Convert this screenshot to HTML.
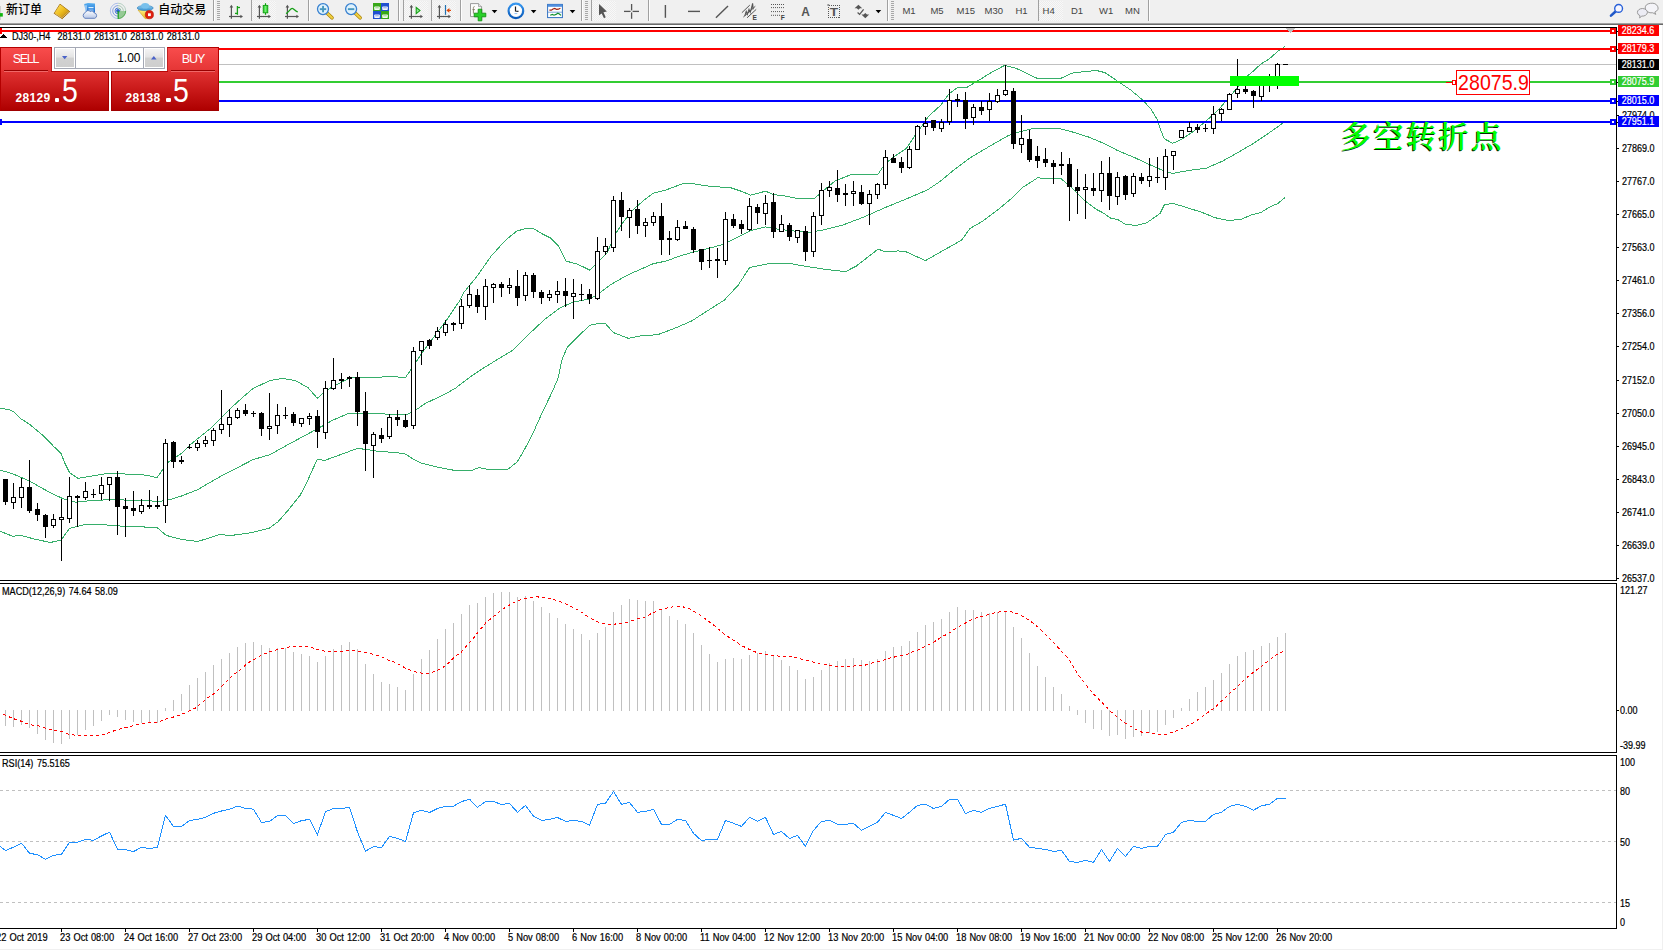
<!DOCTYPE html>
<html lang="zh">
<head>
<meta charset="utf-8">
<title>DJ30-,H4</title>
<style>
html,body{margin:0;padding:0;background:#fff;}
body{width:1663px;height:950px;overflow:hidden;position:relative;font-family:"Liberation Sans","Noto Sans CJK SC",sans-serif;color:#000;}
.abs{position:absolute;}
#toolbar{position:absolute;left:0;top:0;width:1663px;height:23px;background:#f0f0f0;}
#tbshadow1{position:absolute;left:0;top:23px;width:1663px;height:1px;background:#a0a0a0;}
#tbshadow2{position:absolute;left:0;top:24px;width:1663px;height:1px;background:#696969;}
#chart{position:absolute;left:0;top:0;width:1663px;height:950px;}
.ax{position:absolute;left:1622px;font-size:10px;line-height:11px;height:11px;white-space:nowrap;transform:scaleX(0.9);transform-origin:0 50%;-webkit-text-stroke:0.2px #000;}
.ax2{position:absolute;left:1620px;font-size:10px;line-height:11px;height:11px;white-space:nowrap;transform:scaleX(0.9);transform-origin:0 50%;-webkit-text-stroke:0.2px #000;}
.pl{position:absolute;left:1618px;width:41px;height:11px;overflow:hidden;color:#fff;font-size:10px;line-height:12px;text-align:center;white-space:nowrap;}
.pl span{display:inline-block;transform:scaleX(0.9);transform-origin:50% 50%;-webkit-text-stroke:0.2px #fff;}
.dt{position:absolute;top:932px;font-size:10px;line-height:11px;height:11px;white-space:nowrap;word-spacing:0.5px;transform:scaleX(0.93);transform-origin:0 50%;-webkit-text-stroke:0.2px #000;}
.lbl{position:absolute;font-size:10px;line-height:11px;white-space:nowrap;word-spacing:1.1px;transform:scaleX(0.91);transform-origin:0 50%;-webkit-text-stroke:0.2px #000;}
.tf{position:absolute;top:5px;font-size:9.5px;line-height:12px;color:#444;white-space:nowrap;}
.cn{position:absolute;font-family:"Liberation Sans","Noto Sans CJK SC",sans-serif;font-size:12px;line-height:14px;white-space:nowrap;color:#000;font-weight:500;}
</style>
</head>
<body>
<svg id="chart" width="1663" height="950" viewBox="0 0 1663 950" shape-rendering="crispEdges">
<!-- frame lines -->
<rect x="0" y="27" width="1617" height="1" fill="#000"/>
<rect x="0" y="580" width="1617" height="1" fill="#000"/>
<rect x="0" y="583" width="1617" height="1" fill="#000"/>
<rect x="0" y="752" width="1617" height="1" fill="#000"/>
<rect x="0" y="755" width="1617" height="1" fill="#000"/>
<rect x="0" y="928" width="1617" height="1" fill="#000"/>
<rect x="1616" y="27" width="1" height="902" fill="#000"/>
<rect x="1616" y="581" width="1" height="2" fill="#fff"/><rect x="1616" y="753" width="1" height="2" fill="#fff"/>
<rect x="1617" y="710" width="2" height="1" fill="#000"/>
<!-- bid line -->
<rect x="0" y="64" width="1616" height="1" fill="#c0c0c0"/>
<!-- bollinger -->
<polyline fill="none" stroke="#36ae6a" stroke-width="1" points="0.0,408.4 8.4,409.5 13.7,411.6 21.1,418.9 29.5,424.2 42.1,434.7 54.7,447.4 61.1,453.7 65.3,464.2 69.5,472.6 77.9,478.3 90.5,476.2 109.5,473.1 126.3,474.1 147.4,475.2 156.8,477.9 162.1,470.5 168.4,462.1 181.1,453.7 189.5,445.3 210.5,428.4 231.6,407.4 242.5,397.5 253.1,388.4 269.9,380.6 282.5,378.3 295.2,380.6 307.8,387.4 317.3,398.3 322.5,393.7 333.1,386.3 349.9,377.9 366.7,377.3 392.0,376.8 405.7,377.3 413.1,366.3 421.5,353.7 434.1,336.8 446.7,320.0 459.4,301.1 464.0,292.2 476.6,276.8 491.4,255.8 506.1,239.6 516.6,231.2 527.2,228.0 533.5,228.6 541.9,233.7 550.3,237.9 558.7,246.3 566.1,261.1 577.7,264.2 589.7,270.1 598.7,261.1 607.2,252.6 615.6,233.7 624.0,221.1 632.4,210.5 642.9,201.1 653.5,193.1 666.1,189.9 682.9,183.6 691.4,183.2 696.0,184.2 712.8,186.7 729.7,187.4 742.3,191.6 750.7,195.2 765.5,191.2 773.9,194.7 784.4,195.8 797.1,198.5 813.9,198.9 822.3,191.6 834.9,181.1 851.8,174.3 878.1,174.1 885.5,163.2 893.9,156.8 906.5,148.4 914.9,135.8 925.5,121.1 928.0,116.8 940.6,105.3 949.1,93.7 957.5,87.4 965.9,88.0 978.5,80.4 991.2,72.6 1004.8,65.3 1016.4,68.4 1029.1,74.7 1037.5,78.5 1060.6,78.5 1071.2,73.3 1083.8,71.6 1096.4,70.5 1104.8,72.6 1117.5,81.1 1130.1,89.5 1142.7,100.0 1151.2,109.5 1157.5,120.0 1160.0,128.2 1164.2,138.7 1172.6,143.3 1181.1,139.7 1193.7,131.3 1206.3,120.8 1218.9,109.2 1231.6,94.5 1244.2,78.7 1252.6,71.7 1261.1,63.9 1269.5,58.7 1277.9,51.3 1284.8,46.7"/>
<polyline fill="none" stroke="#36ae6a" stroke-width="1" points="0.0,470.1 12.6,473.7 29.5,481.1 46.3,490.5 63.2,498.9 75.8,502.1 92.6,500.4 113.7,499.6 134.7,500.4 160.0,501.3 168.4,500.0 181.1,496.2 197.9,489.5 210.5,482.1 227.4,472.6 232.0,470.5 253.1,459.6 269.9,454.7 286.7,445.3 316.2,429.5 333.1,420.0 347.8,413.7 362.5,413.1 392.0,414.3 406.7,414.7 415.2,410.5 425.7,403.2 442.5,395.4 455.2,388.4 458.3,386.0 470.0,377.0 481.9,369.0 496.6,360.0 512.4,350.5 527.2,335.8 544.0,320.0 560.8,307.4 573.5,302.1 590.3,298.9 598.7,293.7 611.4,284.2 628.2,274.7 653.5,263.6 666.1,261.1 678.7,256.4 691.4,252.6 696.0,251.6 712.8,247.4 723.4,244.2 738.1,236.8 750.7,230.5 765.5,226.9 780.2,229.5 792.8,230.9 809.7,232.2 822.3,230.1 843.4,224.8 864.4,216.8 885.5,207.4 906.5,198.9 923.4,191.6 928.0,189.5 940.6,181.1 953.3,170.5 970.1,157.9 991.2,145.3 1008.0,135.8 1020.6,131.6 1033.3,128.4 1058.5,128.4 1071.2,131.6 1088.0,136.8 1104.8,143.8 1117.5,150.5 1134.3,157.5 1151.2,165.3 1163.8,170.9 1172.6,173.4 1189.5,170.3 1206.3,168.2 1223.2,160.8 1240.0,151.3 1252.6,143.9 1265.3,135.5 1277.9,126.7 1283.2,122.9"/>
<polyline fill="none" stroke="#36ae6a" stroke-width="1" points="0.0,531.2 12.6,536.2 21.1,535.4 33.7,538.9 50.5,542.5 61.1,540.0 69.5,528.4 84.2,524.6 101.1,524.4 113.7,525.7 134.7,526.7 156.8,527.4 166.3,535.4 181.1,539.4 197.9,541.5 218.9,534.7 231.6,535.4 251.6,532.7 269.2,528.3 278.1,521.7 288.4,509.9 300.2,495.1 306.1,484.1 312.0,470.8 317.3,459.4 324.6,460.4 341.5,454.3 357.3,448.4 366.7,449.5 379.4,451.6 392.0,452.2 404.6,453.7 413.1,458.9 421.5,463.2 438.3,467.4 455.2,470.5 473.0,470.0 479.0,467.5 486.0,469.0 498.0,469.5 508.0,469.2 517.0,462.0 523.0,452.3 532.0,435.3 542.3,412.5 552.6,391.1 558.5,377.1 561.9,360.0 567.2,347.4 577.7,336.8 589.7,325.3 596.6,323.8 605.1,323.2 613.5,332.6 628.2,338.3 640.8,335.8 657.7,334.7 674.5,328.4 691.4,321.1 724.4,300.0 738.1,285.3 749.7,267.4 767.6,263.8 788.6,263.2 805.5,266.3 826.5,269.5 845.5,271.6 856.0,266.3 878.1,249.1 885.5,252.0 898.1,250.9 906.5,252.0 925.5,260.6 961.7,240.0 970.1,228.4 982.7,221.1 999.6,208.4 1012.2,197.9 1022.7,187.4 1037.5,177.9 1048.0,178.3 1060.6,178.3 1071.2,187.4 1083.8,200.0 1096.4,209.5 1102.7,212.6 1111.2,218.5 1117.5,219.4 1125.9,224.6 1136.4,225.3 1146.9,222.7 1155.4,216.8 1160.0,213.4 1164.2,205.0 1172.6,203.3 1185.3,207.1 1202.1,212.4 1214.7,217.6 1227.4,220.4 1240.0,219.7 1252.6,214.5 1261.1,212.4 1269.5,207.1 1277.9,203.5 1284.8,197.6"/>
<!-- objects -->
<rect x="0" y="30" width="1616" height="2" fill="#ff0000"/>
<rect x="0" y="48" width="1616" height="2" fill="#ff0000"/>
<rect x="0" y="81" width="1616" height="2" fill="#32cd32"/>
<rect x="0" y="100" width="1616" height="2" fill="#0000ff"/>
<rect x="0" y="121" width="1616" height="2" fill="#0000ff"/>
<!-- candles -->
<rect x="5" y="479" width="1" height="26" fill="#000"/>
<rect x="3" y="479" width="5" height="23" fill="#000"/>
<rect x="13" y="483" width="1" height="26" fill="#000"/>
<rect x="11" y="497" width="5" height="6" fill="#000"/>
<rect x="12" y="498" width="3" height="4" fill="#fff"/>
<rect x="21" y="478" width="1" height="30" fill="#000"/>
<rect x="19" y="487" width="5" height="11" fill="#000"/>
<rect x="20" y="488" width="3" height="9" fill="#fff"/>
<rect x="29" y="460" width="1" height="53" fill="#000"/>
<rect x="27" y="487" width="5" height="24" fill="#000"/>
<rect x="37" y="503" width="1" height="18" fill="#000"/>
<rect x="35" y="509" width="5" height="6" fill="#000"/>
<rect x="45" y="514" width="1" height="24" fill="#000"/>
<rect x="43" y="515" width="5" height="12" fill="#000"/>
<rect x="53" y="514" width="1" height="14" fill="#000"/>
<rect x="51" y="519" width="5" height="7" fill="#000"/>
<rect x="52" y="520" width="3" height="5" fill="#fff"/>
<rect x="61" y="499" width="1" height="62" fill="#000"/>
<rect x="59" y="517" width="5" height="3" fill="#000"/>
<rect x="60" y="518" width="3" height="1" fill="#fff"/>
<rect x="69" y="477" width="1" height="46" fill="#000"/>
<rect x="67" y="496" width="5" height="23" fill="#000"/>
<rect x="68" y="497" width="3" height="21" fill="#fff"/>
<rect x="77" y="495" width="1" height="32" fill="#000"/>
<rect x="75" y="496" width="5" height="2" fill="#000"/>
<rect x="85" y="482" width="1" height="18" fill="#000"/>
<rect x="83" y="491" width="5" height="7" fill="#000"/>
<rect x="84" y="492" width="3" height="5" fill="#fff"/>
<rect x="93" y="489" width="1" height="9" fill="#000"/>
<rect x="91" y="494" width="5" height="1" fill="#000"/>
<rect x="101" y="477" width="1" height="23" fill="#000"/>
<rect x="99" y="485" width="5" height="9" fill="#000"/>
<rect x="100" y="486" width="3" height="7" fill="#fff"/>
<rect x="109" y="477" width="1" height="24" fill="#000"/>
<rect x="107" y="477" width="5" height="8" fill="#000"/>
<rect x="108" y="478" width="3" height="6" fill="#fff"/>
<rect x="117" y="471" width="1" height="64" fill="#000"/>
<rect x="115" y="477" width="5" height="30" fill="#000"/>
<rect x="125" y="498" width="1" height="39" fill="#000"/>
<rect x="123" y="506" width="5" height="3" fill="#000"/>
<rect x="133" y="491" width="1" height="25" fill="#000"/>
<rect x="131" y="508" width="5" height="3" fill="#000"/>
<rect x="141" y="499" width="1" height="15" fill="#000"/>
<rect x="139" y="505" width="5" height="7" fill="#000"/>
<rect x="140" y="506" width="3" height="5" fill="#fff"/>
<rect x="149" y="490" width="1" height="19" fill="#000"/>
<rect x="147" y="505" width="5" height="2" fill="#000"/>
<rect x="157" y="496" width="1" height="13" fill="#000"/>
<rect x="155" y="505" width="5" height="2" fill="#000"/>
<rect x="165" y="439" width="1" height="84" fill="#000"/>
<rect x="163" y="443" width="5" height="63" fill="#000"/>
<rect x="164" y="444" width="3" height="61" fill="#fff"/>
<rect x="173" y="441" width="1" height="27" fill="#000"/>
<rect x="171" y="442" width="5" height="20" fill="#000"/>
<rect x="181" y="456" width="1" height="8" fill="#000"/>
<rect x="179" y="460" width="5" height="2" fill="#000"/>
<rect x="189" y="444" width="1" height="5" fill="#000"/>
<rect x="187" y="447" width="5" height="1" fill="#000"/>
<rect x="197" y="440" width="1" height="11" fill="#000"/>
<rect x="195" y="443" width="5" height="5" fill="#000"/>
<rect x="196" y="444" width="3" height="3" fill="#fff"/>
<rect x="205" y="436" width="1" height="11" fill="#000"/>
<rect x="203" y="440" width="5" height="4" fill="#000"/>
<rect x="204" y="441" width="3" height="2" fill="#fff"/>
<rect x="213" y="428" width="1" height="18" fill="#000"/>
<rect x="211" y="430" width="5" height="11" fill="#000"/>
<rect x="212" y="431" width="3" height="9" fill="#fff"/>
<rect x="221" y="390" width="1" height="44" fill="#000"/>
<rect x="219" y="424" width="5" height="6" fill="#000"/>
<rect x="220" y="425" width="3" height="4" fill="#fff"/>
<rect x="229" y="409" width="1" height="28" fill="#000"/>
<rect x="227" y="417" width="5" height="8" fill="#000"/>
<rect x="228" y="418" width="3" height="6" fill="#fff"/>
<rect x="237" y="408" width="1" height="11" fill="#000"/>
<rect x="235" y="410" width="5" height="8" fill="#000"/>
<rect x="236" y="411" width="3" height="6" fill="#fff"/>
<rect x="245" y="404" width="1" height="12" fill="#000"/>
<rect x="243" y="410" width="5" height="4" fill="#000"/>
<rect x="253" y="411" width="1" height="6" fill="#000"/>
<rect x="251" y="413" width="5" height="1" fill="#000"/>
<rect x="261" y="412" width="1" height="24" fill="#000"/>
<rect x="259" y="413" width="5" height="16" fill="#000"/>
<rect x="269" y="393" width="1" height="47" fill="#000"/>
<rect x="267" y="426" width="5" height="3" fill="#000"/>
<rect x="268" y="427" width="3" height="1" fill="#fff"/>
<rect x="277" y="404" width="1" height="30" fill="#000"/>
<rect x="275" y="415" width="5" height="11" fill="#000"/>
<rect x="276" y="416" width="3" height="9" fill="#fff"/>
<rect x="285" y="407" width="1" height="12" fill="#000"/>
<rect x="283" y="415" width="5" height="1" fill="#000"/>
<rect x="293" y="412" width="1" height="14" fill="#000"/>
<rect x="291" y="414" width="5" height="9" fill="#000"/>
<rect x="301" y="418" width="1" height="9" fill="#000"/>
<rect x="299" y="418" width="5" height="6" fill="#000"/>
<rect x="300" y="419" width="3" height="4" fill="#fff"/>
<rect x="309" y="413" width="1" height="12" fill="#000"/>
<rect x="307" y="416" width="5" height="3" fill="#000"/>
<rect x="308" y="417" width="3" height="1" fill="#fff"/>
<rect x="317" y="410" width="1" height="38" fill="#000"/>
<rect x="315" y="416" width="5" height="16" fill="#000"/>
<rect x="325" y="381" width="1" height="58" fill="#000"/>
<rect x="323" y="388" width="5" height="45" fill="#000"/>
<rect x="324" y="389" width="3" height="43" fill="#fff"/>
<rect x="333" y="358" width="1" height="32" fill="#000"/>
<rect x="331" y="380" width="5" height="9" fill="#000"/>
<rect x="332" y="381" width="3" height="7" fill="#fff"/>
<rect x="341" y="373" width="1" height="16" fill="#000"/>
<rect x="339" y="379" width="5" height="2" fill="#000"/>
<rect x="349" y="376" width="1" height="11" fill="#000"/>
<rect x="347" y="377" width="5" height="2" fill="#000"/>
<rect x="357" y="372" width="1" height="54" fill="#000"/>
<rect x="355" y="377" width="5" height="35" fill="#000"/>
<rect x="365" y="392" width="1" height="79" fill="#000"/>
<rect x="363" y="411" width="5" height="33" fill="#000"/>
<rect x="373" y="432" width="1" height="46" fill="#000"/>
<rect x="371" y="434" width="5" height="12" fill="#000"/>
<rect x="372" y="435" width="3" height="10" fill="#fff"/>
<rect x="381" y="428" width="1" height="15" fill="#000"/>
<rect x="379" y="435" width="5" height="4" fill="#000"/>
<rect x="389" y="414" width="1" height="25" fill="#000"/>
<rect x="387" y="417" width="5" height="20" fill="#000"/>
<rect x="388" y="418" width="3" height="18" fill="#fff"/>
<rect x="397" y="410" width="1" height="16" fill="#000"/>
<rect x="395" y="417" width="5" height="3" fill="#000"/>
<rect x="405" y="414" width="1" height="14" fill="#000"/>
<rect x="403" y="420" width="5" height="7" fill="#000"/>
<rect x="413" y="347" width="1" height="82" fill="#000"/>
<rect x="411" y="351" width="5" height="75" fill="#000"/>
<rect x="412" y="352" width="3" height="73" fill="#fff"/>
<rect x="421" y="341" width="1" height="24" fill="#000"/>
<rect x="419" y="341" width="5" height="10" fill="#000"/>
<rect x="420" y="342" width="3" height="8" fill="#fff"/>
<rect x="429" y="339" width="1" height="10" fill="#000"/>
<rect x="427" y="340" width="5" height="6" fill="#000"/>
<rect x="437" y="327" width="1" height="13" fill="#000"/>
<rect x="435" y="331" width="5" height="7" fill="#000"/>
<rect x="436" y="332" width="3" height="5" fill="#fff"/>
<rect x="445" y="320" width="1" height="16" fill="#000"/>
<rect x="443" y="324" width="5" height="9" fill="#000"/>
<rect x="444" y="325" width="3" height="7" fill="#fff"/>
<rect x="453" y="322" width="1" height="9" fill="#000"/>
<rect x="451" y="323" width="5" height="2" fill="#000"/>
<rect x="461" y="299" width="1" height="30" fill="#000"/>
<rect x="459" y="306" width="5" height="18" fill="#000"/>
<rect x="460" y="307" width="3" height="16" fill="#fff"/>
<rect x="469" y="285" width="1" height="23" fill="#000"/>
<rect x="467" y="294" width="5" height="12" fill="#000"/>
<rect x="468" y="295" width="3" height="10" fill="#fff"/>
<rect x="477" y="289" width="1" height="24" fill="#000"/>
<rect x="475" y="295" width="5" height="12" fill="#000"/>
<rect x="485" y="279" width="1" height="41" fill="#000"/>
<rect x="483" y="286" width="5" height="21" fill="#000"/>
<rect x="484" y="287" width="3" height="19" fill="#fff"/>
<rect x="493" y="283" width="1" height="20" fill="#000"/>
<rect x="491" y="284" width="5" height="4" fill="#000"/>
<rect x="492" y="285" width="3" height="2" fill="#fff"/>
<rect x="501" y="282" width="1" height="15" fill="#000"/>
<rect x="499" y="284" width="5" height="4" fill="#000"/>
<rect x="509" y="278" width="1" height="16" fill="#000"/>
<rect x="507" y="285" width="5" height="3" fill="#000"/>
<rect x="508" y="286" width="3" height="1" fill="#fff"/>
<rect x="517" y="270" width="1" height="36" fill="#000"/>
<rect x="515" y="286" width="5" height="12" fill="#000"/>
<rect x="525" y="272" width="1" height="29" fill="#000"/>
<rect x="523" y="275" width="5" height="21" fill="#000"/>
<rect x="524" y="276" width="3" height="19" fill="#fff"/>
<rect x="533" y="273" width="1" height="25" fill="#000"/>
<rect x="531" y="275" width="5" height="17" fill="#000"/>
<rect x="541" y="290" width="1" height="14" fill="#000"/>
<rect x="539" y="292" width="5" height="6" fill="#000"/>
<rect x="549" y="290" width="1" height="11" fill="#000"/>
<rect x="547" y="294" width="5" height="4" fill="#000"/>
<rect x="548" y="295" width="3" height="2" fill="#fff"/>
<rect x="557" y="281" width="1" height="22" fill="#000"/>
<rect x="555" y="291" width="5" height="4" fill="#000"/>
<rect x="556" y="292" width="3" height="2" fill="#fff"/>
<rect x="565" y="278" width="1" height="29" fill="#000"/>
<rect x="563" y="291" width="5" height="5" fill="#000"/>
<rect x="573" y="279" width="1" height="40" fill="#000"/>
<rect x="571" y="293" width="5" height="4" fill="#000"/>
<rect x="572" y="294" width="3" height="2" fill="#fff"/>
<rect x="581" y="284" width="1" height="17" fill="#000"/>
<rect x="579" y="294" width="5" height="1" fill="#000"/>
<rect x="589" y="289" width="1" height="15" fill="#000"/>
<rect x="587" y="294" width="5" height="5" fill="#000"/>
<rect x="597" y="237" width="1" height="63" fill="#000"/>
<rect x="595" y="251" width="5" height="48" fill="#000"/>
<rect x="596" y="252" width="3" height="46" fill="#fff"/>
<rect x="605" y="238" width="1" height="17" fill="#000"/>
<rect x="603" y="246" width="5" height="6" fill="#000"/>
<rect x="604" y="247" width="3" height="4" fill="#fff"/>
<rect x="613" y="196" width="1" height="56" fill="#000"/>
<rect x="611" y="200" width="5" height="48" fill="#000"/>
<rect x="612" y="201" width="3" height="46" fill="#fff"/>
<rect x="621" y="192" width="1" height="39" fill="#000"/>
<rect x="619" y="200" width="5" height="17" fill="#000"/>
<rect x="629" y="208" width="1" height="30" fill="#000"/>
<rect x="627" y="210" width="5" height="8" fill="#000"/>
<rect x="628" y="211" width="3" height="6" fill="#fff"/>
<rect x="637" y="200" width="1" height="34" fill="#000"/>
<rect x="635" y="209" width="5" height="17" fill="#000"/>
<rect x="645" y="218" width="1" height="19" fill="#000"/>
<rect x="643" y="222" width="5" height="4" fill="#000"/>
<rect x="644" y="223" width="3" height="2" fill="#fff"/>
<rect x="653" y="212" width="1" height="14" fill="#000"/>
<rect x="651" y="216" width="5" height="7" fill="#000"/>
<rect x="652" y="217" width="3" height="5" fill="#fff"/>
<rect x="661" y="203" width="1" height="52" fill="#000"/>
<rect x="659" y="216" width="5" height="24" fill="#000"/>
<rect x="669" y="231" width="1" height="24" fill="#000"/>
<rect x="667" y="238" width="5" height="2" fill="#000"/>
<rect x="677" y="220" width="1" height="21" fill="#000"/>
<rect x="675" y="227" width="5" height="13" fill="#000"/>
<rect x="676" y="228" width="3" height="11" fill="#fff"/>
<rect x="685" y="221" width="1" height="8" fill="#000"/>
<rect x="683" y="226" width="5" height="3" fill="#000"/>
<rect x="693" y="227" width="1" height="26" fill="#000"/>
<rect x="691" y="229" width="5" height="21" fill="#000"/>
<rect x="701" y="249" width="1" height="21" fill="#000"/>
<rect x="699" y="249" width="5" height="13" fill="#000"/>
<rect x="709" y="247" width="1" height="21" fill="#000"/>
<rect x="707" y="260" width="5" height="1" fill="#000"/>
<rect x="717" y="248" width="1" height="30" fill="#000"/>
<rect x="715" y="259" width="5" height="2" fill="#000"/>
<rect x="725" y="212" width="1" height="53" fill="#000"/>
<rect x="723" y="219" width="5" height="42" fill="#000"/>
<rect x="724" y="220" width="3" height="40" fill="#fff"/>
<rect x="733" y="214" width="1" height="14" fill="#000"/>
<rect x="731" y="219" width="5" height="7" fill="#000"/>
<rect x="741" y="220" width="1" height="14" fill="#000"/>
<rect x="739" y="224" width="5" height="5" fill="#000"/>
<rect x="749" y="198" width="1" height="33" fill="#000"/>
<rect x="747" y="206" width="5" height="24" fill="#000"/>
<rect x="748" y="207" width="3" height="22" fill="#fff"/>
<rect x="757" y="204" width="1" height="20" fill="#000"/>
<rect x="755" y="207" width="5" height="6" fill="#000"/>
<rect x="765" y="195" width="1" height="30" fill="#000"/>
<rect x="763" y="203" width="5" height="11" fill="#000"/>
<rect x="764" y="204" width="3" height="9" fill="#fff"/>
<rect x="773" y="193" width="1" height="45" fill="#000"/>
<rect x="771" y="202" width="5" height="30" fill="#000"/>
<rect x="781" y="215" width="1" height="17" fill="#000"/>
<rect x="779" y="224" width="5" height="8" fill="#000"/>
<rect x="780" y="225" width="3" height="6" fill="#fff"/>
<rect x="789" y="223" width="1" height="18" fill="#000"/>
<rect x="787" y="225" width="5" height="12" fill="#000"/>
<rect x="797" y="231" width="1" height="12" fill="#000"/>
<rect x="795" y="230" width="5" height="8" fill="#000"/>
<rect x="796" y="231" width="3" height="6" fill="#fff"/>
<rect x="805" y="226" width="1" height="35" fill="#000"/>
<rect x="803" y="231" width="5" height="21" fill="#000"/>
<rect x="813" y="212" width="1" height="45" fill="#000"/>
<rect x="811" y="216" width="5" height="36" fill="#000"/>
<rect x="812" y="217" width="3" height="34" fill="#fff"/>
<rect x="821" y="183" width="1" height="42" fill="#000"/>
<rect x="819" y="190" width="5" height="26" fill="#000"/>
<rect x="820" y="191" width="3" height="24" fill="#fff"/>
<rect x="829" y="181" width="1" height="16" fill="#000"/>
<rect x="827" y="187" width="5" height="4" fill="#000"/>
<rect x="828" y="188" width="3" height="2" fill="#fff"/>
<rect x="837" y="170" width="1" height="32" fill="#000"/>
<rect x="835" y="188" width="5" height="7" fill="#000"/>
<rect x="845" y="184" width="1" height="22" fill="#000"/>
<rect x="843" y="193" width="5" height="2" fill="#000"/>
<rect x="853" y="181" width="1" height="25" fill="#000"/>
<rect x="851" y="191" width="5" height="3" fill="#000"/>
<rect x="852" y="192" width="3" height="1" fill="#fff"/>
<rect x="861" y="185" width="1" height="20" fill="#000"/>
<rect x="859" y="192" width="5" height="12" fill="#000"/>
<rect x="869" y="190" width="1" height="35" fill="#000"/>
<rect x="867" y="194" width="5" height="10" fill="#000"/>
<rect x="868" y="195" width="3" height="8" fill="#fff"/>
<rect x="877" y="183" width="1" height="16" fill="#000"/>
<rect x="875" y="184" width="5" height="11" fill="#000"/>
<rect x="876" y="185" width="3" height="9" fill="#fff"/>
<rect x="885" y="150" width="1" height="39" fill="#000"/>
<rect x="883" y="157" width="5" height="28" fill="#000"/>
<rect x="884" y="158" width="3" height="26" fill="#fff"/>
<rect x="893" y="154" width="1" height="9" fill="#000"/>
<rect x="891" y="158" width="5" height="5" fill="#000"/>
<rect x="901" y="157" width="1" height="16" fill="#000"/>
<rect x="899" y="162" width="5" height="6" fill="#000"/>
<rect x="909" y="146" width="1" height="23" fill="#000"/>
<rect x="907" y="149" width="5" height="19" fill="#000"/>
<rect x="908" y="150" width="3" height="17" fill="#fff"/>
<rect x="917" y="125" width="1" height="25" fill="#000"/>
<rect x="915" y="126" width="5" height="24" fill="#000"/>
<rect x="916" y="127" width="3" height="22" fill="#fff"/>
<rect x="925" y="117" width="1" height="18" fill="#000"/>
<rect x="923" y="123" width="5" height="4" fill="#000"/>
<rect x="924" y="124" width="3" height="2" fill="#fff"/>
<rect x="933" y="120" width="1" height="11" fill="#000"/>
<rect x="931" y="120" width="5" height="8" fill="#000"/>
<rect x="941" y="119" width="1" height="13" fill="#000"/>
<rect x="939" y="122" width="5" height="7" fill="#000"/>
<rect x="940" y="123" width="3" height="5" fill="#fff"/>
<rect x="949" y="89" width="1" height="36" fill="#000"/>
<rect x="947" y="100" width="5" height="22" fill="#000"/>
<rect x="948" y="101" width="3" height="20" fill="#fff"/>
<rect x="957" y="94" width="1" height="13" fill="#000"/>
<rect x="955" y="99" width="5" height="2" fill="#000"/>
<rect x="965" y="92" width="1" height="37" fill="#000"/>
<rect x="963" y="100" width="5" height="19" fill="#000"/>
<rect x="973" y="104" width="1" height="21" fill="#000"/>
<rect x="971" y="107" width="5" height="11" fill="#000"/>
<rect x="972" y="108" width="3" height="9" fill="#fff"/>
<rect x="981" y="101" width="1" height="14" fill="#000"/>
<rect x="979" y="107" width="5" height="4" fill="#000"/>
<rect x="989" y="93" width="1" height="28" fill="#000"/>
<rect x="987" y="101" width="5" height="9" fill="#000"/>
<rect x="988" y="102" width="3" height="7" fill="#fff"/>
<rect x="997" y="89" width="1" height="14" fill="#000"/>
<rect x="995" y="95" width="5" height="7" fill="#000"/>
<rect x="996" y="96" width="3" height="5" fill="#fff"/>
<rect x="1005" y="65" width="1" height="31" fill="#000"/>
<rect x="1003" y="90" width="5" height="5" fill="#000"/>
<rect x="1004" y="91" width="3" height="3" fill="#fff"/>
<rect x="1013" y="88" width="1" height="61" fill="#000"/>
<rect x="1011" y="91" width="5" height="53" fill="#000"/>
<rect x="1021" y="115" width="1" height="38" fill="#000"/>
<rect x="1019" y="138" width="5" height="7" fill="#000"/>
<rect x="1020" y="139" width="3" height="5" fill="#fff"/>
<rect x="1029" y="130" width="1" height="32" fill="#000"/>
<rect x="1027" y="139" width="5" height="21" fill="#000"/>
<rect x="1037" y="146" width="1" height="22" fill="#000"/>
<rect x="1035" y="156" width="5" height="5" fill="#000"/>
<rect x="1045" y="148" width="1" height="19" fill="#000"/>
<rect x="1043" y="159" width="5" height="4" fill="#000"/>
<rect x="1053" y="160" width="1" height="24" fill="#000"/>
<rect x="1051" y="163" width="5" height="4" fill="#000"/>
<rect x="1061" y="152" width="1" height="23" fill="#000"/>
<rect x="1059" y="164" width="5" height="2" fill="#000"/>
<rect x="1069" y="158" width="1" height="63" fill="#000"/>
<rect x="1067" y="164" width="5" height="23" fill="#000"/>
<rect x="1077" y="169" width="1" height="45" fill="#000"/>
<rect x="1075" y="187" width="5" height="4" fill="#000"/>
<rect x="1085" y="174" width="1" height="45" fill="#000"/>
<rect x="1083" y="187" width="5" height="3" fill="#000"/>
<rect x="1084" y="188" width="3" height="1" fill="#fff"/>
<rect x="1093" y="173" width="1" height="23" fill="#000"/>
<rect x="1091" y="188" width="5" height="3" fill="#000"/>
<rect x="1101" y="161" width="1" height="41" fill="#000"/>
<rect x="1099" y="173" width="5" height="18" fill="#000"/>
<rect x="1100" y="174" width="3" height="16" fill="#fff"/>
<rect x="1109" y="157" width="1" height="53" fill="#000"/>
<rect x="1107" y="173" width="5" height="23" fill="#000"/>
<rect x="1117" y="172" width="1" height="33" fill="#000"/>
<rect x="1115" y="177" width="5" height="20" fill="#000"/>
<rect x="1116" y="178" width="3" height="18" fill="#fff"/>
<rect x="1125" y="175" width="1" height="25" fill="#000"/>
<rect x="1123" y="176" width="5" height="19" fill="#000"/>
<rect x="1133" y="173" width="1" height="24" fill="#000"/>
<rect x="1131" y="176" width="5" height="18" fill="#000"/>
<rect x="1132" y="177" width="3" height="16" fill="#fff"/>
<rect x="1141" y="173" width="1" height="11" fill="#000"/>
<rect x="1139" y="177" width="5" height="4" fill="#000"/>
<rect x="1149" y="158" width="1" height="29" fill="#000"/>
<rect x="1147" y="176" width="5" height="5" fill="#000"/>
<rect x="1148" y="177" width="3" height="3" fill="#fff"/>
<rect x="1157" y="157" width="1" height="26" fill="#000"/>
<rect x="1155" y="177" width="5" height="1" fill="#000"/>
<rect x="1165" y="149" width="1" height="41" fill="#000"/>
<rect x="1163" y="156" width="5" height="22" fill="#000"/>
<rect x="1164" y="157" width="3" height="20" fill="#fff"/>
<rect x="1173" y="151" width="1" height="19" fill="#000"/>
<rect x="1171" y="151" width="5" height="5" fill="#000"/>
<rect x="1172" y="152" width="3" height="3" fill="#fff"/>
<rect x="1181" y="131" width="1" height="6" fill="#000"/>
<rect x="1179" y="130" width="5" height="8" fill="#000"/>
<rect x="1180" y="131" width="3" height="6" fill="#fff"/>
<rect x="1189" y="122" width="1" height="10" fill="#000"/>
<rect x="1187" y="127" width="5" height="5" fill="#000"/>
<rect x="1188" y="128" width="3" height="3" fill="#fff"/>
<rect x="1197" y="124" width="1" height="9" fill="#000"/>
<rect x="1195" y="127" width="5" height="3" fill="#000"/>
<rect x="1205" y="124" width="1" height="8" fill="#000"/>
<rect x="1203" y="128" width="5" height="1" fill="#000"/>
<rect x="1213" y="106" width="1" height="28" fill="#000"/>
<rect x="1211" y="114" width="5" height="15" fill="#000"/>
<rect x="1212" y="115" width="3" height="13" fill="#fff"/>
<rect x="1221" y="108" width="1" height="13" fill="#000"/>
<rect x="1219" y="109" width="5" height="5" fill="#000"/>
<rect x="1220" y="110" width="3" height="3" fill="#fff"/>
<rect x="1229" y="93" width="1" height="17" fill="#000"/>
<rect x="1227" y="94" width="5" height="16" fill="#000"/>
<rect x="1228" y="95" width="3" height="14" fill="#fff"/>
<rect x="1237" y="59" width="1" height="39" fill="#000"/>
<rect x="1235" y="89" width="5" height="5" fill="#000"/>
<rect x="1236" y="90" width="3" height="3" fill="#fff"/>
<rect x="1245" y="86" width="1" height="8" fill="#000"/>
<rect x="1243" y="89" width="5" height="3" fill="#000"/>
<rect x="1253" y="90" width="1" height="18" fill="#000"/>
<rect x="1251" y="91" width="5" height="5" fill="#000"/>
<rect x="1261" y="84" width="1" height="17" fill="#000"/>
<rect x="1259" y="84" width="5" height="13" fill="#000"/>
<rect x="1260" y="85" width="3" height="11" fill="#fff"/>
<rect x="1269" y="74" width="1" height="18" fill="#000"/>
<rect x="1267" y="76" width="5" height="9" fill="#000"/>
<rect x="1268" y="77" width="3" height="7" fill="#fff"/>
<rect x="1277" y="63" width="1" height="26" fill="#000"/>
<rect x="1275" y="64" width="5" height="13" fill="#000"/>
<rect x="1276" y="65" width="3" height="11" fill="#fff"/>
<rect x="1283" y="64" width="5" height="1" fill="#000"/>
<rect x="1230" y="76" width="69" height="10" fill="#00ff00"/>
<!-- handles -->
<rect x="0" y="28" width="2" height="6" fill="#ff0000"/>
<rect x="0" y="119" width="2" height="6" fill="#0000ff"/>
<g>
<rect x="1610" y="28" width="6" height="6" fill="#ff0000"/><rect x="1612" y="30" width="2" height="2" fill="#fff"/>
<rect x="1610" y="46" width="6" height="6" fill="#ff0000"/><rect x="1612" y="48" width="2" height="2" fill="#fff"/>
<rect x="1610" y="79" width="6" height="6" fill="#32cd32"/><rect x="1612" y="81" width="2" height="2" fill="#fff"/>
<rect x="1610" y="98" width="6" height="6" fill="#0000ff"/><rect x="1612" y="100" width="2" height="2" fill="#fff"/>
<rect x="1610" y="119" width="6" height="6" fill="#0000ff"/><rect x="1612" y="121" width="2" height="2" fill="#fff"/>
</g>
<!-- shift marker -->
<polygon points="1286,28 1295,28 1290.5,33" fill="#c0c0c0"/>
<!-- price label box -->
<rect x="1446" y="82" width="10" height="1" fill="#ff0000"/>
<rect x="1452" y="80" width="4" height="5" fill="#ff0000"/><rect x="1453" y="81" width="2" height="3" fill="#fff"/>
<rect x="1456.5" y="70.5" width="73" height="24" fill="#fff" stroke="#ff0000" stroke-width="1"/>
<!-- price label backgrounds -->
<rect x="1618" y="25" width="41" height="11" fill="#ff0000"/>
<rect x="1618" y="43" width="41" height="11" fill="#ff0000"/>
<rect x="1618" y="59" width="41" height="11" fill="#000"/>
<rect x="1618" y="76" width="41" height="11" fill="#32cd32"/>
<rect x="1618" y="95" width="41" height="11" fill="#0000ff"/>
<rect x="1618" y="116" width="41" height="11" fill="#0000ff"/>
<!-- axis ticks -->
<rect x="1617" y="115" width="2" height="1" fill="#000"/>
<rect x="1617" y="148" width="2" height="1" fill="#000"/>
<rect x="1617" y="181" width="2" height="1" fill="#000"/>
<rect x="1617" y="214" width="2" height="1" fill="#000"/>
<rect x="1617" y="247" width="2" height="1" fill="#000"/>
<rect x="1617" y="280" width="2" height="1" fill="#000"/>
<rect x="1617" y="313" width="2" height="1" fill="#000"/>
<rect x="1617" y="346" width="2" height="1" fill="#000"/>
<rect x="1617" y="380" width="2" height="1" fill="#000"/>
<rect x="1617" y="413" width="2" height="1" fill="#000"/>
<rect x="1617" y="446" width="2" height="1" fill="#000"/>
<rect x="1617" y="479" width="2" height="1" fill="#000"/>
<rect x="1617" y="512" width="2" height="1" fill="#000"/>
<rect x="1617" y="545" width="2" height="1" fill="#000"/>
<rect x="1617" y="578" width="2" height="1" fill="#000"/>
<rect x="1617" y="31" width="1" height="1" fill="#000"/>
<rect x="1617" y="49" width="1" height="1" fill="#000"/>
<rect x="1617" y="82" width="1" height="1" fill="#000"/>
<rect x="1617" y="101" width="1" height="1" fill="#000"/>
<rect x="1617" y="122" width="1" height="1" fill="#000"/>
<rect x="61" y="929" width="1" height="3" fill="#000"/>
<rect x="125" y="929" width="1" height="3" fill="#000"/>
<rect x="189" y="929" width="1" height="3" fill="#000"/>
<rect x="253" y="929" width="1" height="3" fill="#000"/>
<rect x="317" y="929" width="1" height="3" fill="#000"/>
<rect x="381" y="929" width="1" height="3" fill="#000"/>
<rect x="445" y="929" width="1" height="3" fill="#000"/>
<rect x="509" y="929" width="1" height="3" fill="#000"/>
<rect x="573" y="929" width="1" height="3" fill="#000"/>
<rect x="637" y="929" width="1" height="3" fill="#000"/>
<rect x="701" y="929" width="1" height="3" fill="#000"/>
<rect x="765" y="929" width="1" height="3" fill="#000"/>
<rect x="829" y="929" width="1" height="3" fill="#000"/>
<rect x="893" y="929" width="1" height="3" fill="#000"/>
<rect x="957" y="929" width="1" height="3" fill="#000"/>
<rect x="1021" y="929" width="1" height="3" fill="#000"/>
<rect x="1085" y="929" width="1" height="3" fill="#000"/>
<rect x="1149" y="929" width="1" height="3" fill="#000"/>
<rect x="1213" y="929" width="1" height="3" fill="#000"/>
<rect x="1277" y="929" width="1" height="3" fill="#000"/>
<!-- MACD -->
<rect x="5" y="710" width="1" height="16" fill="#c0c0c0"/>
<rect x="13" y="710" width="1" height="17" fill="#c0c0c0"/>
<rect x="21" y="710" width="1" height="15" fill="#c0c0c0"/>
<rect x="29" y="710" width="1" height="18" fill="#c0c0c0"/>
<rect x="37" y="710" width="1" height="24" fill="#c0c0c0"/>
<rect x="45" y="710" width="1" height="30" fill="#c0c0c0"/>
<rect x="53" y="710" width="1" height="33" fill="#c0c0c0"/>
<rect x="61" y="710" width="1" height="34" fill="#c0c0c0"/>
<rect x="69" y="710" width="1" height="29" fill="#c0c0c0"/>
<rect x="77" y="710" width="1" height="25" fill="#c0c0c0"/>
<rect x="85" y="710" width="1" height="20" fill="#c0c0c0"/>
<rect x="93" y="710" width="1" height="16" fill="#c0c0c0"/>
<rect x="101" y="710" width="1" height="11" fill="#c0c0c0"/>
<rect x="109" y="710" width="1" height="5" fill="#c0c0c0"/>
<rect x="117" y="710" width="1" height="7" fill="#c0c0c0"/>
<rect x="125" y="710" width="1" height="10" fill="#c0c0c0"/>
<rect x="133" y="710" width="1" height="12" fill="#c0c0c0"/>
<rect x="141" y="710" width="1" height="13" fill="#c0c0c0"/>
<rect x="149" y="710" width="1" height="13" fill="#c0c0c0"/>
<rect x="157" y="710" width="1" height="13" fill="#c0c0c0"/>
<rect x="165" y="708" width="1" height="3" fill="#c0c0c0"/>
<rect x="173" y="700" width="1" height="11" fill="#c0c0c0"/>
<rect x="181" y="694" width="1" height="17" fill="#c0c0c0"/>
<rect x="189" y="685" width="1" height="26" fill="#c0c0c0"/>
<rect x="197" y="678" width="1" height="33" fill="#c0c0c0"/>
<rect x="205" y="672" width="1" height="39" fill="#c0c0c0"/>
<rect x="213" y="665" width="1" height="46" fill="#c0c0c0"/>
<rect x="221" y="659" width="1" height="52" fill="#c0c0c0"/>
<rect x="229" y="653" width="1" height="58" fill="#c0c0c0"/>
<rect x="237" y="647" width="1" height="64" fill="#c0c0c0"/>
<rect x="245" y="643" width="1" height="68" fill="#c0c0c0"/>
<rect x="253" y="642" width="1" height="69" fill="#c0c0c0"/>
<rect x="261" y="645" width="1" height="66" fill="#c0c0c0"/>
<rect x="269" y="648" width="1" height="63" fill="#c0c0c0"/>
<rect x="277" y="648" width="1" height="63" fill="#c0c0c0"/>
<rect x="285" y="648" width="1" height="63" fill="#c0c0c0"/>
<rect x="293" y="652" width="1" height="59" fill="#c0c0c0"/>
<rect x="301" y="654" width="1" height="57" fill="#c0c0c0"/>
<rect x="309" y="656" width="1" height="55" fill="#c0c0c0"/>
<rect x="317" y="662" width="1" height="49" fill="#c0c0c0"/>
<rect x="325" y="656" width="1" height="55" fill="#c0c0c0"/>
<rect x="333" y="649" width="1" height="62" fill="#c0c0c0"/>
<rect x="341" y="645" width="1" height="66" fill="#c0c0c0"/>
<rect x="349" y="642" width="1" height="69" fill="#c0c0c0"/>
<rect x="357" y="649" width="1" height="62" fill="#c0c0c0"/>
<rect x="365" y="664" width="1" height="47" fill="#c0c0c0"/>
<rect x="373" y="674" width="1" height="37" fill="#c0c0c0"/>
<rect x="381" y="682" width="1" height="29" fill="#c0c0c0"/>
<rect x="389" y="684" width="1" height="27" fill="#c0c0c0"/>
<rect x="397" y="687" width="1" height="24" fill="#c0c0c0"/>
<rect x="405" y="690" width="1" height="21" fill="#c0c0c0"/>
<rect x="413" y="674" width="1" height="37" fill="#c0c0c0"/>
<rect x="421" y="659" width="1" height="52" fill="#c0c0c0"/>
<rect x="429" y="650" width="1" height="61" fill="#c0c0c0"/>
<rect x="437" y="639" width="1" height="72" fill="#c0c0c0"/>
<rect x="445" y="629" width="1" height="82" fill="#c0c0c0"/>
<rect x="453" y="623" width="1" height="88" fill="#c0c0c0"/>
<rect x="461" y="614" width="1" height="97" fill="#c0c0c0"/>
<rect x="469" y="605" width="1" height="106" fill="#c0c0c0"/>
<rect x="477" y="603" width="1" height="108" fill="#c0c0c0"/>
<rect x="485" y="597" width="1" height="114" fill="#c0c0c0"/>
<rect x="493" y="593" width="1" height="118" fill="#c0c0c0"/>
<rect x="501" y="592" width="1" height="119" fill="#c0c0c0"/>
<rect x="509" y="592" width="1" height="119" fill="#c0c0c0"/>
<rect x="517" y="597" width="1" height="114" fill="#c0c0c0"/>
<rect x="525" y="596" width="1" height="115" fill="#c0c0c0"/>
<rect x="533" y="601" width="1" height="110" fill="#c0c0c0"/>
<rect x="541" y="607" width="1" height="104" fill="#c0c0c0"/>
<rect x="549" y="613" width="1" height="98" fill="#c0c0c0"/>
<rect x="557" y="618" width="1" height="93" fill="#c0c0c0"/>
<rect x="565" y="624" width="1" height="87" fill="#c0c0c0"/>
<rect x="573" y="629" width="1" height="82" fill="#c0c0c0"/>
<rect x="581" y="634" width="1" height="77" fill="#c0c0c0"/>
<rect x="589" y="640" width="1" height="71" fill="#c0c0c0"/>
<rect x="597" y="633" width="1" height="78" fill="#c0c0c0"/>
<rect x="605" y="627" width="1" height="84" fill="#c0c0c0"/>
<rect x="613" y="612" width="1" height="99" fill="#c0c0c0"/>
<rect x="621" y="605" width="1" height="106" fill="#c0c0c0"/>
<rect x="629" y="599" width="1" height="112" fill="#c0c0c0"/>
<rect x="637" y="600" width="1" height="111" fill="#c0c0c0"/>
<rect x="645" y="601" width="1" height="110" fill="#c0c0c0"/>
<rect x="653" y="601" width="1" height="110" fill="#c0c0c0"/>
<rect x="661" y="610" width="1" height="101" fill="#c0c0c0"/>
<rect x="669" y="616" width="1" height="95" fill="#c0c0c0"/>
<rect x="677" y="620" width="1" height="91" fill="#c0c0c0"/>
<rect x="685" y="624" width="1" height="87" fill="#c0c0c0"/>
<rect x="693" y="633" width="1" height="78" fill="#c0c0c0"/>
<rect x="701" y="645" width="1" height="66" fill="#c0c0c0"/>
<rect x="709" y="654" width="1" height="57" fill="#c0c0c0"/>
<rect x="717" y="662" width="1" height="49" fill="#c0c0c0"/>
<rect x="725" y="659" width="1" height="52" fill="#c0c0c0"/>
<rect x="733" y="658" width="1" height="53" fill="#c0c0c0"/>
<rect x="741" y="659" width="1" height="52" fill="#c0c0c0"/>
<rect x="749" y="655" width="1" height="56" fill="#c0c0c0"/>
<rect x="757" y="653" width="1" height="58" fill="#c0c0c0"/>
<rect x="765" y="651" width="1" height="60" fill="#c0c0c0"/>
<rect x="773" y="656" width="1" height="55" fill="#c0c0c0"/>
<rect x="781" y="660" width="1" height="51" fill="#c0c0c0"/>
<rect x="789" y="666" width="1" height="45" fill="#c0c0c0"/>
<rect x="797" y="670" width="1" height="41" fill="#c0c0c0"/>
<rect x="805" y="679" width="1" height="32" fill="#c0c0c0"/>
<rect x="813" y="677" width="1" height="34" fill="#c0c0c0"/>
<rect x="821" y="670" width="1" height="41" fill="#c0c0c0"/>
<rect x="829" y="663" width="1" height="48" fill="#c0c0c0"/>
<rect x="837" y="661" width="1" height="50" fill="#c0c0c0"/>
<rect x="845" y="659" width="1" height="52" fill="#c0c0c0"/>
<rect x="853" y="658" width="1" height="53" fill="#c0c0c0"/>
<rect x="861" y="660" width="1" height="51" fill="#c0c0c0"/>
<rect x="869" y="661" width="1" height="50" fill="#c0c0c0"/>
<rect x="877" y="659" width="1" height="52" fill="#c0c0c0"/>
<rect x="885" y="651" width="1" height="60" fill="#c0c0c0"/>
<rect x="893" y="647" width="1" height="64" fill="#c0c0c0"/>
<rect x="901" y="646" width="1" height="65" fill="#c0c0c0"/>
<rect x="909" y="641" width="1" height="70" fill="#c0c0c0"/>
<rect x="917" y="632" width="1" height="79" fill="#c0c0c0"/>
<rect x="925" y="625" width="1" height="86" fill="#c0c0c0"/>
<rect x="933" y="622" width="1" height="89" fill="#c0c0c0"/>
<rect x="941" y="619" width="1" height="92" fill="#c0c0c0"/>
<rect x="949" y="612" width="1" height="99" fill="#c0c0c0"/>
<rect x="957" y="607" width="1" height="104" fill="#c0c0c0"/>
<rect x="965" y="610" width="1" height="101" fill="#c0c0c0"/>
<rect x="973" y="610" width="1" height="101" fill="#c0c0c0"/>
<rect x="981" y="612" width="1" height="99" fill="#c0c0c0"/>
<rect x="989" y="613" width="1" height="98" fill="#c0c0c0"/>
<rect x="997" y="612" width="1" height="99" fill="#c0c0c0"/>
<rect x="1005" y="612" width="1" height="99" fill="#c0c0c0"/>
<rect x="1013" y="627" width="1" height="84" fill="#c0c0c0"/>
<rect x="1021" y="638" width="1" height="73" fill="#c0c0c0"/>
<rect x="1029" y="653" width="1" height="58" fill="#c0c0c0"/>
<rect x="1037" y="666" width="1" height="45" fill="#c0c0c0"/>
<rect x="1045" y="677" width="1" height="34" fill="#c0c0c0"/>
<rect x="1053" y="687" width="1" height="24" fill="#c0c0c0"/>
<rect x="1061" y="694" width="1" height="17" fill="#c0c0c0"/>
<rect x="1069" y="706" width="1" height="5" fill="#c0c0c0"/>
<rect x="1077" y="710" width="1" height="5" fill="#c0c0c0"/>
<rect x="1085" y="710" width="1" height="13" fill="#c0c0c0"/>
<rect x="1093" y="710" width="1" height="19" fill="#c0c0c0"/>
<rect x="1101" y="710" width="1" height="20" fill="#c0c0c0"/>
<rect x="1109" y="710" width="1" height="26" fill="#c0c0c0"/>
<rect x="1117" y="710" width="1" height="25" fill="#c0c0c0"/>
<rect x="1125" y="710" width="1" height="29" fill="#c0c0c0"/>
<rect x="1133" y="710" width="1" height="27" fill="#c0c0c0"/>
<rect x="1141" y="710" width="1" height="26" fill="#c0c0c0"/>
<rect x="1149" y="710" width="1" height="23" fill="#c0c0c0"/>
<rect x="1157" y="710" width="1" height="22" fill="#c0c0c0"/>
<rect x="1165" y="710" width="1" height="15" fill="#c0c0c0"/>
<rect x="1173" y="710" width="1" height="8" fill="#c0c0c0"/>
<rect x="1181" y="708" width="1" height="3" fill="#c0c0c0"/>
<rect x="1189" y="699" width="1" height="12" fill="#c0c0c0"/>
<rect x="1197" y="692" width="1" height="19" fill="#c0c0c0"/>
<rect x="1205" y="687" width="1" height="24" fill="#c0c0c0"/>
<rect x="1213" y="680" width="1" height="31" fill="#c0c0c0"/>
<rect x="1221" y="673" width="1" height="38" fill="#c0c0c0"/>
<rect x="1229" y="664" width="1" height="47" fill="#c0c0c0"/>
<rect x="1237" y="656" width="1" height="55" fill="#c0c0c0"/>
<rect x="1245" y="652" width="1" height="59" fill="#c0c0c0"/>
<rect x="1253" y="650" width="1" height="61" fill="#c0c0c0"/>
<rect x="1261" y="646" width="1" height="65" fill="#c0c0c0"/>
<rect x="1269" y="643" width="1" height="68" fill="#c0c0c0"/>
<rect x="1277" y="637" width="1" height="74" fill="#c0c0c0"/>
<rect x="1285" y="633" width="1" height="78" fill="#c0c0c0"/>
<polyline fill="none" stroke="#ff0000" stroke-width="1" stroke-dasharray="3 3" points="3.2,714.2 12.6,718.4 21.1,721.2 29.5,724.7 37.9,725.8 46.3,728.3 54.7,730.6 63.2,732.1 69.5,734.8 84.2,735.5 101.1,735.3 109.5,732.5 117.9,729.4 126.3,727.5 134.7,725.2 143.2,723.3 157.9,722.2 166.3,718.8 174.7,716.7 183.2,713.8 195.8,707.9 206.3,698.8 214.7,693.2 223.2,684.7 231.6,676.3 240.0,670.0 248.4,662.6 261.1,655.3 271.6,651.1 282.1,648.3 290.8,646.7 305.1,646.3 312.6,647.7 316.4,649.5 325.9,651.3 341.1,651.3 350.5,650.3 363.8,652.2 377.1,655.2 382.8,657.3 388.4,660.3 396.0,662.8 405.5,668.1 413.1,671.5 420.7,673.0 430.1,673.4 437.7,670.2 443.4,667.2 449.1,662.4 454.8,656.7 461.4,652.0 466.1,646.3 471.8,640.3 476.6,634.0 481.3,628.3 486.0,622.6 492.7,617.3 498.3,612.6 504.0,608.4 510.7,604.3 517.3,600.8 524.9,598.6 534.4,596.7 543.8,597.4 553.3,599.5 560.9,601.8 568.5,605.0 576.0,609.0 583.6,613.5 586.8,616.0 593.5,619.8 599.2,622.6 606.7,624.3 614.3,624.2 621.9,623.0 629.5,621.7 635.2,619.4 644.6,617.3 650.3,614.1 659.8,609.8 669.3,607.5 676.9,606.3 684.4,607.1 691.1,609.4 697.7,613.7 703.4,617.3 709.1,621.7 714.8,626.0 720.4,630.8 726.1,635.5 733.7,640.3 741.3,645.4 748.9,649.2 756.4,652.4 765.9,654.3 773.5,655.4 781.1,656.4 790.6,656.4 796.2,657.9 803.8,659.6 811.4,661.5 819.0,663.9 828.5,665.3 836.0,666.4 849.3,666.4 856.9,665.8 864.5,665.3 872.0,663.0 879.6,661.5 887.6,658.6 894.2,657.1 899.0,655.8 906.5,654.5 912.2,652.0 917.9,650.1 925.5,646.3 931.2,643.5 936.9,640.1 942.5,636.5 949.2,633.1 954.9,628.9 960.5,625.5 966.2,622.6 972.9,619.2 978.5,617.3 986.1,615.4 991.8,613.5 997.5,612.2 1003.2,611.5 1009.8,611.5 1014.5,612.8 1021.2,615.4 1026.9,618.8 1032.5,622.6 1038.2,627.4 1044.9,634.0 1050.6,639.7 1056.2,645.4 1061.9,651.6 1067.6,657.7 1071.4,663.4 1075.2,670.0 1079.0,675.7 1083.7,681.8 1088.5,688.0 1093.2,693.7 1098.9,699.4 1104.6,705.1 1110.2,711.1 1116.9,716.8 1122.6,721.2 1128.2,725.0 1134.9,728.8 1141.5,732.0 1149.1,732.9 1158.6,734.4 1166.1,734.4 1172.8,732.2 1176.0,731.0 1182.6,728.4 1188.3,725.5 1195.0,721.7 1200.6,718.0 1206.3,713.6 1213.0,708.9 1218.6,704.1 1224.3,698.4 1230.0,693.1 1236.6,687.4 1242.3,681.8 1248.0,676.6 1254.6,671.5 1260.3,667.2 1267.0,661.9 1272.6,657.7 1278.3,653.5 1285.0,650.5"/>
<!-- RSI levels -->
<line x1="0" y1="790.5" x2="1616" y2="790.5" stroke="#c0c0c0" stroke-width="1" stroke-dasharray="3 3"/>
<line x1="0" y1="841.5" x2="1616" y2="841.5" stroke="#c0c0c0" stroke-width="1" stroke-dasharray="3 3"/>
<line x1="0" y1="902.5" x2="1616" y2="902.5" stroke="#c0c0c0" stroke-width="1" stroke-dasharray="3 3"/>
<polyline fill="none" stroke="#1e90ff" stroke-width="1" points="-3.0,843.9 5.5,850.6 13.5,847.2 21.5,843.1 29.5,853.3 37.5,854.7 45.5,859.3 53.5,855.4 61.5,854.3 69.5,842.3 77.5,842.3 85.5,839.5 93.5,840.2 101.5,836.0 109.5,832.1 117.5,849.3 125.5,849.5 133.5,851.6 141.5,847.3 149.5,848.5 157.5,847.5 165.5,815.4 173.5,826.4 181.5,826.4 189.5,820.6 197.5,819.3 205.5,817.3 213.5,813.3 221.5,811.0 229.5,809.2 237.5,806.2 245.5,808.3 253.5,809.2 261.5,822.5 269.5,821.4 277.5,815.4 285.5,815.4 293.5,823.7 301.5,820.6 309.5,819.4 317.5,834.5 325.5,811.7 333.5,808.5 341.5,808.5 349.5,807.3 357.5,832.0 365.5,851.2 373.5,846.6 381.5,847.5 389.5,836.4 397.5,838.3 405.5,841.6 413.5,812.7 421.5,810.4 429.5,812.5 437.5,808.5 445.5,806.4 453.5,806.2 461.5,801.6 469.5,799.2 477.5,807.3 485.5,801.6 493.5,801.6 501.5,804.4 509.5,803.5 517.5,812.3 525.5,805.4 533.5,816.0 541.5,820.4 549.5,819.4 557.5,817.5 565.5,821.4 573.5,820.4 581.5,821.4 589.5,825.2 597.5,804.4 605.5,803.3 613.5,791.5 621.5,804.4 629.5,802.5 637.5,812.3 645.5,811.4 653.5,809.4 661.5,824.4 669.5,824.4 677.5,819.4 685.5,820.4 693.5,833.3 701.5,840.6 709.5,839.3 717.5,839.3 725.5,820.4 733.5,823.3 741.5,826.4 749.5,817.3 757.5,821.4 765.5,817.3 773.5,834.5 781.5,831.4 789.5,838.5 797.5,835.4 805.5,846.4 813.5,830.4 821.5,821.4 829.5,820.4 837.5,824.4 845.5,824.4 853.5,823.3 861.5,830.4 869.5,826.2 877.5,822.3 885.5,812.3 893.5,815.4 901.5,818.5 909.5,812.3 917.5,805.4 925.5,804.2 933.5,808.5 941.5,806.4 949.5,799.4 957.5,799.4 965.5,813.5 973.5,810.4 981.5,812.3 989.5,808.3 997.5,806.4 1005.5,804.2 1013.5,840.2 1021.5,838.3 1029.5,847.3 1037.5,848.3 1045.5,849.5 1053.5,851.4 1061.5,850.4 1069.5,861.4 1077.5,862.4 1085.5,860.4 1093.5,862.4 1101.5,849.5 1109.5,861.4 1117.5,848.5 1125.5,856.4 1133.5,846.4 1141.5,848.3 1149.5,846.4 1157.5,846.4 1165.5,834.5 1173.5,832.3 1181.5,822.3 1189.5,820.4 1197.5,821.4 1205.5,821.4 1213.5,814.4 1221.5,812.3 1229.5,806.4 1237.5,804.4 1245.5,806.4 1253.5,810.2 1261.5,805.7 1269.5,804.3 1277.5,798.2 1285.5,798.2"/>
<!-- title triangle -->
<polygon points="0,38 7,38 3.5,34" fill="#000"/>
<!-- right and bottom edge -->
<rect x="1662" y="25" width="1" height="925" fill="#f0f0f0"/>
<rect x="0" y="949" width="1663" height="1" fill="#f0f0f0"/>
</svg>

<!-- text labels -->
<div class="lbl" style="left:12px;top:30.5px;">DJ30-,H4&nbsp; 28131.0 28131.0 28131.0 28131.0</div>
<div class="lbl" style="left:1.5px;top:586px;">MACD(12,26,9) 74.64 58.09</div>
<div class="lbl" style="left:1.5px;top:758px;">RSI(14) 75.5165</div>
<div class="ax" style="top:110px;">27974.0</div>
<div class="ax" style="top:143px;">27869.0</div>
<div class="ax" style="top:176px;">27767.0</div>
<div class="ax" style="top:209px;">27665.0</div>
<div class="ax" style="top:242px;">27563.0</div>
<div class="ax" style="top:275px;">27461.0</div>
<div class="ax" style="top:308px;">27356.0</div>
<div class="ax" style="top:341px;">27254.0</div>
<div class="ax" style="top:375px;">27152.0</div>
<div class="ax" style="top:408px;">27050.0</div>
<div class="ax" style="top:441px;">26945.0</div>
<div class="ax" style="top:474px;">26843.0</div>
<div class="ax" style="top:507px;">26741.0</div>
<div class="ax" style="top:540px;">26639.0</div>
<div class="ax" style="top:573px;">26537.0</div>
<div class="pl" style="top:25px;background:#ff0000;"><span>28234.6</span></div>
<div class="pl" style="top:43px;background:#ff0000;"><span>28179.3</span></div>
<div class="pl" style="top:59px;background:#000;"><span>28131.0</span></div>
<div class="pl" style="top:76px;background:#32cd32;"><span>28075.9</span></div>
<div class="pl" style="top:95px;background:#0000ff;"><span>28015.0</span></div>
<div class="pl" style="top:116px;background:#0000ff;"><span>27951.1</span></div>
<div class="ax2" style="top:585px;">121.27</div>
<div class="ax2" style="top:705px;">0.00</div>
<div class="ax2" style="top:740px;">-39.99</div>
<div class="ax2" style="top:757px;">100</div>
<div class="ax2" style="top:786px;">80</div>
<div class="ax2" style="top:837px;">50</div>
<div class="ax2" style="top:898px;">15</div>
<div class="ax2" style="top:917px;">0</div>
<div class="dt" style="left:-4px;">22 Oct 2019</div>
<div class="dt" style="left:60px;">23 Oct 08:00</div>
<div class="dt" style="left:124px;">24 Oct 16:00</div>
<div class="dt" style="left:188px;">27 Oct 23:00</div>
<div class="dt" style="left:252px;">29 Oct 04:00</div>
<div class="dt" style="left:316px;">30 Oct 12:00</div>
<div class="dt" style="left:380px;">31 Oct 20:00</div>
<div class="dt" style="left:444px;">4 Nov 00:00</div>
<div class="dt" style="left:508px;">5 Nov 08:00</div>
<div class="dt" style="left:572px;">6 Nov 16:00</div>
<div class="dt" style="left:636px;">8 Nov 00:00</div>
<div class="dt" style="left:700px;">11 Nov 04:00</div>
<div class="dt" style="left:764px;">12 Nov 12:00</div>
<div class="dt" style="left:828px;">13 Nov 20:00</div>
<div class="dt" style="left:892px;">15 Nov 04:00</div>
<div class="dt" style="left:956px;">18 Nov 08:00</div>
<div class="dt" style="left:1020px;">19 Nov 16:00</div>
<div class="dt" style="left:1084px;">21 Nov 00:00</div>
<div class="dt" style="left:1148px;">22 Nov 08:00</div>
<div class="dt" style="left:1212px;">25 Nov 12:00</div>
<div class="dt" style="left:1276px;">26 Nov 20:00</div>
<div class="abs" style="left:1457px;top:71px;width:73px;height:24px;overflow:visible;"><div style="position:absolute;left:-10px;top:0;width:93px;height:24px;line-height:24px;font-size:22px;color:#ff0000;text-align:center;white-space:nowrap;transform:scaleX(0.89);transform-origin:50% 50%;">28075.9</div></div>
<div class="abs" style="left:1341px;top:115px;font-family:'Liberation Serif','Noto Serif CJK SC',serif;font-weight:600;font-size:30px;letter-spacing:2.6px;line-height:44px;color:#00ff00;text-shadow:-1px 1px 0 #002800;white-space:nowrap;">多空转折点</div>

<!-- one click trading panel -->
<div id="panel" class="abs" style="left:0;top:47px;width:219px;height:64px;">
  <div class="abs" style="left:52px;top:0;width:115px;height:24px;background:#fff;"></div>
  <div class="abs" style="left:109px;top:24px;width:2px;height:40px;background:#fff;"></div>
  <!-- SELL -->
  <div class="abs" style="left:0;top:0;width:52px;height:25px;background:linear-gradient(#f84c4c,#e43434);border-left:1px solid #b40000;border-top:1px solid #b40000;border-right:1px solid #c42020;box-sizing:border-box;"></div>
  <div class="abs" style="left:0;top:3px;width:51px;height:18px;line-height:18px;text-align:center;color:#fff;font-size:12.5px;letter-spacing:-1.3px;">SELL</div>
  <!-- BUY -->
  <div class="abs" style="left:167px;top:0;width:52px;height:25px;background:linear-gradient(#f84c4c,#e43434);border-right:1px solid #b40000;border-top:1px solid #b40000;border-left:1px solid #c42020;box-sizing:border-box;"></div>
  <div class="abs" style="left:167px;top:3px;width:52px;height:18px;line-height:18px;text-align:center;color:#fff;font-size:12.5px;letter-spacing:-1.1px;">BUY</div>
  <!-- price buttons -->
  <div class="abs" style="left:0;top:24px;width:109px;height:40px;background:linear-gradient(#e03232,#c81818 50%,#ae0000);border-left:1px solid #b40000;border-bottom:1px solid #a00000;border-right:1px solid #a80000;box-sizing:border-box;"></div>
  <div class="abs" style="left:111px;top:24px;width:108px;height:40px;background:linear-gradient(#e03232,#c81818 50%,#ae0000);border-left:1px solid #a80000;border-bottom:1px solid #a00000;border-right:1px solid #b40000;box-sizing:border-box;"></div>
  <div class="abs" style="left:51px;top:24px;width:58px;height:1px;background:#b80808;"></div>
  <div class="abs" style="left:111px;top:24px;width:57px;height:1px;background:#b80808;"></div>
  <!-- separators under labels -->
  <div class="abs" style="left:4px;top:23px;width:44px;height:1px;background:#980000;"></div>
  <div class="abs" style="left:4px;top:24px;width:44px;height:1px;background:#f06868;"></div>
  <div class="abs" style="left:171px;top:23px;width:44px;height:1px;background:#980000;"></div>
  <div class="abs" style="left:171px;top:24px;width:44px;height:1px;background:#f06868;"></div>
  <!-- price text -->
  <div class="abs" style="left:15.5px;top:44px;height:14px;line-height:14px;color:#fff;font-weight:bold;font-size:12px;letter-spacing:0.3px;white-space:nowrap;">28129</div>
  <div class="abs" style="left:55px;top:51px;width:4.3px;height:4px;background:#fff;border-radius:1px;"></div>
  <div class="abs" style="left:62px;top:25px;height:38px;line-height:38px;color:#fff;font-size:33.5px;white-space:nowrap;transform:scaleX(0.85);transform-origin:0 0;">5</div>
  <div class="abs" style="left:125.5px;top:44px;height:14px;line-height:14px;color:#fff;font-weight:bold;font-size:12px;letter-spacing:0.3px;white-space:nowrap;">28138</div>
  <div class="abs" style="left:166.3px;top:51px;width:4.3px;height:4px;background:#fff;border-radius:1px;"></div>
  <div class="abs" style="left:173.4px;top:25px;height:38px;line-height:38px;color:#fff;font-size:33.5px;white-space:nowrap;transform:scaleX(0.85);transform-origin:0 0;">5</div>
  <!-- spinner -->
  <div class="abs" style="left:54px;top:0;width:111px;height:22px;border:1px solid #a4a8b4;background:#fff;box-sizing:border-box;"></div>
  <div class="abs" style="left:56px;top:2px;width:18px;height:18px;background:linear-gradient(#f4f4f4,#e4e4e4 45%,#d2d2d2 50%,#cecece);"></div>
  <div class="abs" style="left:75px;top:1px;width:1px;height:20px;background:#a4a8b4;"></div>
  <div class="abs" style="left:143px;top:1px;width:1px;height:20px;background:#a4a8b4;"></div>
  <div class="abs" style="left:145px;top:2px;width:18px;height:18px;background:linear-gradient(#f4f4f4,#e4e4e4 45%,#d2d2d2 50%,#cecece);"></div>
  <svg class="abs" style="left:54px;top:0;" width="111" height="22" viewBox="0 0 111 22"><polygon points="8,9 13.4,9 10.7,12.2" fill="#4a62c8"/><polygon points="97,12.4 102.6,12.4 99.8,9" fill="#4a62c8"/></svg>
  <div class="abs" style="left:77px;top:3px;width:63.5px;height:16px;line-height:16px;text-align:right;font-size:12px;color:#000;">1.00</div>
</div>

<div id="toolbar"></div><div id="tbshadow1"></div><div id="tbshadow2"></div>
<svg class="abs" style="left:0;top:0;" width="1663" height="23" viewBox="0 0 1663 23">
<defs><linearGradient id="gold" x1="0" y1="0" x2="1" y2="1"><stop offset="0" stop-color="#fbe070"/><stop offset="0.5" stop-color="#f0c020"/><stop offset="1" stop-color="#b88010"/></linearGradient><linearGradient id="cbl" x1="0" y1="0" x2="0" y2="1"><stop offset="0" stop-color="#58b0f0"/><stop offset="1" stop-color="#1868d0"/></linearGradient><linearGradient id="cld" x1="0" y1="0" x2="0" y2="1"><stop offset="0" stop-color="#ffffff"/><stop offset="1" stop-color="#b8c8e8"/></linearGradient><linearGradient id="grn" x1="0" y1="0" x2="1" y2="0"><stop offset="0" stop-color="#20c020"/><stop offset="0.5" stop-color="#70f070"/><stop offset="1" stop-color="#20c020"/></linearGradient><linearGradient id="ylw" x1="0" y1="0" x2="0" y2="1"><stop offset="0" stop-color="#fff080"/><stop offset="1" stop-color="#e8b820"/></linearGradient><linearGradient id="hat" x1="0" y1="0" x2="0" y2="1"><stop offset="0" stop-color="#90d0f0"/><stop offset="1" stop-color="#3890d0"/></linearGradient><linearGradient id="clk" x1="0" y1="0" x2="0" y2="1"><stop offset="0" stop-color="#3898f0"/><stop offset="1" stop-color="#0858b8"/></linearGradient><pattern id="chk" width="2" height="2" patternUnits="userSpaceOnUse"><rect width="2" height="2" fill="#f8f8f8"/><rect width="1" height="1" fill="#ececec"/><rect x="1" y="1" width="1" height="1" fill="#ececec"/></pattern></defs>
<rect x="0" y="6" width="0.7" height="14" fill="#c0c0c0"/><rect x="0" y="13.1" width="2.8" height="3.5" fill="#10b410"/>
<polygon points="60,4.2 69.7,11.6 62.2,18.7 54.2,13.4" fill="#b8841c" stroke="#9a6808" stroke-width="0.9"/>
<polygon points="60,4.4 68.6,10.9 61.4,17.2 54.6,13" fill="url(#gold)"/>
<polyline points="55.2,13.6 61.8,17.8 69,11.6" fill="none" stroke="#f4d890" stroke-width="0.6"/>
<path d="M84.2,4 L88,3 L95,3.6 L95,12.5 L86,12.8 Z" fill="url(#cbl)"/><path d="M86,5.2 L86,12.8" stroke="#c8e8ff" stroke-width="1.2"/><rect x="88.5" y="7" width="5" height="1.2" fill="#d8f0ff"/><rect x="88.5" y="9.6" width="5" height="1" fill="#b8e0ff"/>
<path d="M85,18.3 a3,3 0 0 1 0.2,-5.6 a3.2,3.2 0 0 1 5.2,-1.2 a2.6,2.6 0 0 1 3.8,1.4 a2.8,2.8 0 0 1 0.6,5.4 Z" fill="url(#cld)" stroke="#5878b8" stroke-width="0.9"/>
<g fill="none" stroke-width="1">
<path d="M118,3.2 a7.7,7.7 0 0 0 0,15.4" stroke="#9ab0e8" opacity="0.8"/><path d="M118,5.6 a5.3,5.3 0 0 0 0,10.6" stroke="#7090e0" opacity="0.85"/><path d="M118,8 a2.9,2.9 0 0 0 0,5.8" stroke="#4a78d8"/>
<path d="M118,3.2 a7.7,7.7 0 0 1 7.7,7.7" stroke="#a8c8b8" opacity="0.8"/><path d="M118,5.6 a5.3,5.3 0 0 1 5.3,5.3" stroke="#98c0a8" opacity="0.8"/><path d="M118,8 a2.9,2.9 0 0 1 2.9,2.9" stroke="#88b8a0"/>
</g><path d="M118.2,10.9 L125.7,10.9 A7.7,7.7 0 0 1 118.2,18.6 Z" fill="#58b058" opacity="0.6"/><path d="M125.7,10.9 A7.7,7.7 0 0 1 118.2,18.6" fill="none" stroke="#50a850" stroke-width="1"/><circle cx="118" cy="10.8" r="1.9" fill="#2860d0"/><rect x="117.6" y="11" width="1.2" height="7.8" fill="#18a018"/>
<path d="M138,10 L149.5,10 L152.5,13 L148.5,18.6 L145,18.6 Z" fill="url(#ylw)" stroke="#d0a020" stroke-width="0.6"/>
<ellipse cx="145.2" cy="8" rx="8" ry="2.6" fill="url(#hat)" stroke="#3080c0" stroke-width="0.6"/><ellipse cx="145.2" cy="5.8" rx="4" ry="2.8" fill="#78c0ec"/>
<circle cx="149.4" cy="14.7" r="4.1" fill="#e02010"/><circle cx="149.4" cy="14.7" r="4.1" fill="none" stroke="#b01808" stroke-width="0.6"/><rect x="148" y="13.3" width="2.8" height="2.8" fill="#fff"/>
<rect x="213" y="0" width="1" height="21" fill="#a0a0a0" shape-rendering="crispEdges"/><rect x="214" y="0" width="1" height="21" fill="#fdfdfd" shape-rendering="crispEdges"/>
<rect x="217" y="1" width="3" height="1" fill="#a8a8a8" shape-rendering="crispEdges"/>
<rect x="217" y="3" width="3" height="1" fill="#a8a8a8" shape-rendering="crispEdges"/>
<rect x="217" y="5" width="3" height="1" fill="#a8a8a8" shape-rendering="crispEdges"/>
<rect x="217" y="7" width="3" height="1" fill="#a8a8a8" shape-rendering="crispEdges"/>
<rect x="217" y="9" width="3" height="1" fill="#a8a8a8" shape-rendering="crispEdges"/>
<rect x="217" y="11" width="3" height="1" fill="#a8a8a8" shape-rendering="crispEdges"/>
<rect x="217" y="13" width="3" height="1" fill="#a8a8a8" shape-rendering="crispEdges"/>
<rect x="217" y="15" width="3" height="1" fill="#a8a8a8" shape-rendering="crispEdges"/>
<rect x="217" y="17" width="3" height="1" fill="#a8a8a8" shape-rendering="crispEdges"/>
<rect x="217" y="19" width="3" height="1" fill="#a8a8a8" shape-rendering="crispEdges"/>
<g stroke="#555555" stroke-width="1.2" fill="#555555">
<line x1="231.4" y1="6" x2="231.4" y2="18.8"/>
<line x1="229.0" y1="16.5" x2="241.5" y2="16.5"/>
<polygon stroke="none" points="231.4,4.8 229.6,7.6 233.2,7.6"/>
<polygon stroke="none" points="243.0,16.5 240.4,14.7 240.4,18.3"/>
</g>
<g stroke="#18a018" stroke-width="1.3" fill="none"><line x1="237.4" y1="6" x2="237.4" y2="14.8"/><line x1="237.4" y1="7.5" x2="240" y2="7.5"/><line x1="235" y1="13.4" x2="237.4" y2="13.4"/></g>
<rect x="251" y="0" width="1" height="21" fill="#a0a0a0" shape-rendering="crispEdges"/>
<rect x="252" y="1" width="24" height="20" fill="url(#chk)" shape-rendering="crispEdges"/>
<g stroke="#555555" stroke-width="1.2" fill="#555555">
<line x1="259.4" y1="6" x2="259.4" y2="18.8"/>
<line x1="257.0" y1="16.5" x2="269.5" y2="16.5"/>
<polygon stroke="none" points="259.4,4.8 257.6,7.6 261.2,7.6"/>
<polygon stroke="none" points="271.0,16.5 268.4,14.7 268.4,18.3"/>
</g>
<line x1="265.5" y1="3.2" x2="265.5" y2="14.8" stroke="#10a010" stroke-width="1.2"/><rect x="263.2" y="5.4" width="4.6" height="7.4" fill="url(#grn)" stroke="#10a010" stroke-width="0.9"/>
<g stroke="#555555" stroke-width="1.2" fill="#555555">
<line x1="287.4" y1="6" x2="287.4" y2="18.8"/>
<line x1="285.0" y1="16.5" x2="297.5" y2="16.5"/>
<polygon stroke="none" points="287.4,4.8 285.6,7.6 289.2,7.6"/>
<polygon stroke="none" points="299.0,16.5 296.4,14.7 296.4,18.3"/>
</g>
<path d="M286,13.6 C289,12 290.5,8.2 292.2,8.3 C294,8.4 295.5,11.5 297.8,11.9" fill="none" stroke="#18a018" stroke-width="1.3"/>
<rect x="308" y="0" width="1" height="21" fill="#a0a0a0" shape-rendering="crispEdges"/><rect x="309" y="0" width="1" height="21" fill="#fdfdfd" shape-rendering="crispEdges"/>
<line x1="327.0" y1="13" x2="332.0" y2="17.8" stroke="#a88008" stroke-width="3.6" stroke-linecap="round"/>
<line x1="327.0" y1="13" x2="332.0" y2="17.8" stroke="#f0d040" stroke-width="2.2" stroke-linecap="round"/>
<circle cx="323.0" cy="9.1" r="5.5" fill="#dff2fc" stroke="#3880d0" stroke-width="1.3"/>
<rect x="319.8" y="8.2" width="6.4" height="1.9" fill="#4898c0"/>
<rect x="322.1" y="5.9" width="1.9" height="6.4" fill="#4898c0"/>
<line x1="355.1" y1="13" x2="360.1" y2="17.8" stroke="#a88008" stroke-width="3.6" stroke-linecap="round"/>
<line x1="355.1" y1="13" x2="360.1" y2="17.8" stroke="#f0d040" stroke-width="2.2" stroke-linecap="round"/>
<circle cx="351.1" cy="9.1" r="5.5" fill="#dff2fc" stroke="#3880d0" stroke-width="1.3"/>
<rect x="347.9" y="8.2" width="6.4" height="1.9" fill="#4898c0"/>
<rect x="373" y="3" width="8" height="8" fill="#38a818"/>
<rect x="374.2" y="6.4" width="5.6" height="3.6" rx="0.8" fill="#fff" opacity="0.95"/>
<rect x="375.2" y="7.4" width="3.6" height="0.9" fill="#38a818" opacity="0.55"/>
<rect x="381" y="3" width="8" height="8" fill="#2050d0"/>
<rect x="382.2" y="6.4" width="5.6" height="3.6" rx="0.8" fill="#fff" opacity="0.95"/>
<rect x="383.2" y="7.4" width="3.6" height="0.9" fill="#2050d0" opacity="0.55"/>
<rect x="373" y="11" width="8" height="8" fill="#2050d0"/>
<rect x="374.2" y="14.4" width="5.6" height="3.6" rx="0.8" fill="#fff" opacity="0.95"/>
<rect x="375.2" y="15.4" width="3.6" height="0.9" fill="#2050d0" opacity="0.55"/>
<rect x="381" y="11" width="8" height="8" fill="#38a818"/>
<rect x="382.2" y="14.4" width="5.6" height="3.6" rx="0.8" fill="#fff" opacity="0.95"/>
<rect x="383.2" y="15.4" width="3.6" height="0.9" fill="#38a818" opacity="0.55"/>
<rect x="398" y="0" width="1" height="21" fill="#a0a0a0" shape-rendering="crispEdges"/><rect x="399" y="0" width="1" height="21" fill="#fdfdfd" shape-rendering="crispEdges"/>
<rect x="403" y="0" width="1" height="21" fill="#a0a0a0" shape-rendering="crispEdges"/>
<rect x="404" y="1" width="24" height="20" fill="url(#chk)" shape-rendering="crispEdges"/>
<g stroke="#555555" stroke-width="1.2" fill="#555555">
<line x1="411.4" y1="6" x2="411.4" y2="18.8"/>
<line x1="409.0" y1="16.5" x2="421.5" y2="16.5"/>
<polygon stroke="none" points="411.4,4.8 409.6,7.6 413.2,7.6"/>
<polygon stroke="none" points="423.0,16.5 420.4,14.7 420.4,18.3"/>
</g>
<polygon points="416.2,7.4 420,10.6 416.2,13.6" fill="#90e890" stroke="#18a018" stroke-width="1.1"/>
<rect x="431" y="0" width="1" height="21" fill="#a0a0a0" shape-rendering="crispEdges"/>
<rect x="432" y="1" width="24" height="20" fill="url(#chk)" shape-rendering="crispEdges"/>
<g stroke="#555555" stroke-width="1.2" fill="#555555">
<line x1="439.4" y1="6" x2="439.4" y2="18.8"/>
<line x1="437.0" y1="16.5" x2="449.5" y2="16.5"/>
<polygon stroke="none" points="439.4,4.8 437.6,7.6 441.2,7.6"/>
<polygon stroke="none" points="451.0,16.5 448.4,14.7 448.4,18.3"/>
</g>
<line x1="445.5" y1="5" x2="445.5" y2="14.8" stroke="#2070b0" stroke-width="1.2"/><line x1="447" y1="10.4" x2="451" y2="10.4" stroke="#e04808" stroke-width="1.2"/><polygon points="446.4,10.4 449.4,8 449.4,12.8" fill="#e04808"/>
<rect x="460" y="0" width="1" height="21" fill="#a0a0a0" shape-rendering="crispEdges"/><rect x="461" y="0" width="1" height="21" fill="#fdfdfd" shape-rendering="crispEdges"/>
<path d="M470.5,3.6 L478.5,3.6 L481.6,6.6 L481.6,16.6 L470.5,16.6 Z" fill="#fcfcfc" stroke="#909090" stroke-width="0.9"/><path d="M478.5,3.6 L478.5,6.6 L481.6,6.6" fill="#e0e0e0" stroke="#909090" stroke-width="0.7"/><path d="M474.6,6.6 C473,6.6 473.4,8 473.4,10 L473.4,13.5" fill="none" stroke="#807860" stroke-width="0.9"/><line x1="472.4" y1="9.6" x2="475" y2="9.6" stroke="#807860" stroke-width="0.8"/>
<path d="M478.2,9.2 h3.6 v4 h4 v3.6 h-4 v4 h-3.6 v-4 h-4 v-3.6 h4 Z" fill="#28d028" stroke="#109010" stroke-width="0.9"/>
<polygon points="491.7,10 497.3,10 494.5,13.2" fill="#000"/>
<circle cx="515.9" cy="10.9" r="7.3" fill="#fff" stroke="url(#clk)" stroke-width="2.2"/><circle cx="515.9" cy="10.9" r="5.6" fill="none" stroke="#d8d8d8" stroke-width="0.7" stroke-dasharray="0.7 2.2"/><path d="M515.5,6.6 L515.5,11 L518.5,11.4" fill="none" stroke="#202020" stroke-width="1.2"/><line x1="514.5" y1="13.6" x2="517.3" y2="13.6" stroke="#70b0f0" stroke-width="0.8"/>
<polygon points="530.8,10 536.4,10 533.6,13.2" fill="#000"/>
<rect x="547.6" y="4.4" width="14.8" height="13.2" fill="#fff" stroke="#3070c0" stroke-width="1"/><rect x="548" y="4.6" width="14" height="2.2" fill="#5090e0"/><line x1="548" y1="12.2" x2="562" y2="12.2" stroke="#6090d0" stroke-width="0.8"/>
<polyline points="549.4,10.2 551.4,10.2 553,9 554.8,8.4 556.6,9.4 558.4,9.2 560.4,8.2" fill="none" stroke="#a02010" stroke-width="1.2"/><polyline points="550.2,15.2 552.4,14.4 554,15.2 556,14.4 557.8,13.2 559.4,14 561,15.4" fill="none" stroke="#109030" stroke-width="1.2"/>
<polygon points="569.7,10 575.3,10 572.5,13.2" fill="#000"/>
<rect x="581" y="0" width="1" height="21" fill="#a0a0a0" shape-rendering="crispEdges"/><rect x="582" y="0" width="1" height="21" fill="#fdfdfd" shape-rendering="crispEdges"/>
<rect x="585" y="1" width="3" height="1" fill="#a8a8a8" shape-rendering="crispEdges"/>
<rect x="585" y="3" width="3" height="1" fill="#a8a8a8" shape-rendering="crispEdges"/>
<rect x="585" y="5" width="3" height="1" fill="#a8a8a8" shape-rendering="crispEdges"/>
<rect x="585" y="7" width="3" height="1" fill="#a8a8a8" shape-rendering="crispEdges"/>
<rect x="585" y="9" width="3" height="1" fill="#a8a8a8" shape-rendering="crispEdges"/>
<rect x="585" y="11" width="3" height="1" fill="#a8a8a8" shape-rendering="crispEdges"/>
<rect x="585" y="13" width="3" height="1" fill="#a8a8a8" shape-rendering="crispEdges"/>
<rect x="585" y="15" width="3" height="1" fill="#a8a8a8" shape-rendering="crispEdges"/>
<rect x="585" y="17" width="3" height="1" fill="#a8a8a8" shape-rendering="crispEdges"/>
<rect x="585" y="19" width="3" height="1" fill="#a8a8a8" shape-rendering="crispEdges"/>
<rect x="591" y="0" width="1" height="21" fill="#a0a0a0" shape-rendering="crispEdges"/>
<rect x="592" y="1" width="24" height="20" fill="url(#chk)" shape-rendering="crispEdges"/>
<polygon points="599,4 606.9,11.6 603.5,12.3 605.7,17.2 604,18.2 601.7,13.4 599,15.2" fill="#555555"/>
<g stroke="#555555" stroke-width="1.3"><line x1="624" y1="11.4" x2="630.6" y2="11.4"/><line x1="632.6" y1="11.4" x2="639" y2="11.4"/><line x1="631.6" y1="4" x2="631.6" y2="10.4"/><line x1="631.6" y1="12.4" x2="631.6" y2="18.8"/></g>
<rect x="648" y="0" width="1" height="21" fill="#a0a0a0" shape-rendering="crispEdges"/><rect x="649" y="0" width="1" height="21" fill="#fdfdfd" shape-rendering="crispEdges"/>
<g stroke="#555555" stroke-width="1.4"><line x1="665.4" y1="5" x2="665.4" y2="17.8"/><line x1="688" y1="11.4" x2="700" y2="11.4"/><line x1="715.9" y1="17.8" x2="728" y2="5.9"/></g>
<g stroke="#555555" stroke-width="1" fill="none"><line x1="741.9" y1="12.7" x2="749.8" y2="5.1"/><line x1="743.4" y1="17" x2="755.3" y2="6.3"/><line x1="747.1" y1="17.8" x2="756.2" y2="9.4"/><path d="M744.8,15.8 l1.4,-4.4 l1.2,3 l1.6,-5 l1.2,3 l1.6,-5.4 l0.8,-3.6 l0.6,6" stroke-width="1.1"/></g>
<text x="752.6" y="19.8" font-family="Liberation Sans,sans-serif" font-weight="bold" font-size="6.6" fill="#404040">E</text>
<line x1="771" y1="4.5" x2="784.4" y2="4.5" stroke="#555555" stroke-width="1" stroke-dasharray="1 1"/>
<line x1="771" y1="7.6" x2="784.4" y2="7.6" stroke="#555555" stroke-width="1" stroke-dasharray="1 1"/>
<line x1="771" y1="11.6" x2="784.4" y2="11.6" stroke="#555555" stroke-width="1" stroke-dasharray="1 1"/>
<line x1="771" y1="15.3" x2="780.0" y2="15.3" stroke="#555555" stroke-width="1" stroke-dasharray="1 1"/>
<text x="780.8" y="19.8" font-family="Liberation Sans,sans-serif" font-weight="bold" font-size="6.6" fill="#404040">F</text>
<text x="801.3" y="15.9" font-family="Liberation Sans,sans-serif" font-size="12.6" font-weight="bold" fill="#555555" textLength="8.6" lengthAdjust="spacingAndGlyphs">A</text>
<rect x="828.5" y="5.5" width="11" height="12" fill="none" stroke="#555555" stroke-width="1" stroke-dasharray="1 1" shape-rendering="crispEdges"/><rect x="827.4" y="4.4" width="1.8" height="1.2" fill="#555555"/>
<text x="829.7" y="15.7" font-family="Liberation Sans,sans-serif" font-size="11" font-weight="bold" fill="#555555" textLength="8.4" lengthAdjust="spacingAndGlyphs">T</text>
<polygon points="858.4,4.8 862.2,8.2 860,8.2 858.4,9.8 856.8,8.2 854.6,8.2" fill="#555555"/>
<polygon points="865.3,18.2 869.2,14.6 867,14.6 865.3,13 863.6,14.6 861.4,14.6" fill="#555555"/>
<polyline points="857.6,12.6 859.6,14.4 863.6,9.4" fill="none" stroke="#555555" stroke-width="1.3"/>
<polygon points="875.6,10 881.2,10 878.4,13.2" fill="#000"/>
<rect x="887" y="0" width="1" height="21" fill="#a0a0a0" shape-rendering="crispEdges"/><rect x="888" y="0" width="1" height="21" fill="#fdfdfd" shape-rendering="crispEdges"/>
<rect x="891" y="1" width="3" height="1" fill="#a8a8a8" shape-rendering="crispEdges"/>
<rect x="891" y="3" width="3" height="1" fill="#a8a8a8" shape-rendering="crispEdges"/>
<rect x="891" y="5" width="3" height="1" fill="#a8a8a8" shape-rendering="crispEdges"/>
<rect x="891" y="7" width="3" height="1" fill="#a8a8a8" shape-rendering="crispEdges"/>
<rect x="891" y="9" width="3" height="1" fill="#a8a8a8" shape-rendering="crispEdges"/>
<rect x="891" y="11" width="3" height="1" fill="#a8a8a8" shape-rendering="crispEdges"/>
<rect x="891" y="13" width="3" height="1" fill="#a8a8a8" shape-rendering="crispEdges"/>
<rect x="891" y="15" width="3" height="1" fill="#a8a8a8" shape-rendering="crispEdges"/>
<rect x="891" y="17" width="3" height="1" fill="#a8a8a8" shape-rendering="crispEdges"/>
<rect x="891" y="19" width="3" height="1" fill="#a8a8a8" shape-rendering="crispEdges"/>
<rect x="1038" y="0" width="1" height="21" fill="#a0a0a0" shape-rendering="crispEdges"/>
<rect x="1039" y="1" width="24" height="20" fill="url(#chk)" shape-rendering="crispEdges"/>
<rect x="1148" y="0" width="1" height="21" fill="#a0a0a0" shape-rendering="crispEdges"/><rect x="1149" y="0" width="1" height="21" fill="#fdfdfd" shape-rendering="crispEdges"/>
<line x1="1615.8" y1="11.2" x2="1611" y2="15.6" stroke="#2058c8" stroke-width="2.6" stroke-linecap="round"/><circle cx="1618.6" cy="8.4" r="3.9" fill="#f6f6ff" stroke="#2860d8" stroke-width="1.4"/>
<path d="M1645.2,8 a6.4,4.7 0 1 1 9.6,4 l1,2.4 l-3,-1.6 a6.4,4.7 0 0 1 -7.6,-4.8 Z" fill="#f4f4f8" stroke="#909090" stroke-width="0.9"/>
<path d="M1637.4,12.4 a5,3.8 0 1 1 4.4,3.7 l-2.2,1.8 l0.4,-2.2 a5,3.8 0 0 1 -2.6,-3.3 Z" fill="#ececf4" stroke="#909090" stroke-width="0.9"/>
</svg>
<div class="cn" style="left:6px;top:3px;">新订单</div>
<div class="cn" style="left:158.2px;top:3px;">自动交易</div>
<div class="tf" style="left:902.4px;">M1</div>
<div class="tf" style="left:930.4px;">M5</div>
<div class="tf" style="left:956.5px;">M15</div>
<div class="tf" style="left:984.5px;">M30</div>
<div class="tf" style="left:1015.5px;">H1</div>
<div class="tf" style="left:1042.6px;">H4</div>
<div class="tf" style="left:1071.0px;">D1</div>
<div class="tf" style="left:1099.0px;">W1</div>
<div class="tf" style="left:1125.0px;">MN</div>
</body>
</html>
